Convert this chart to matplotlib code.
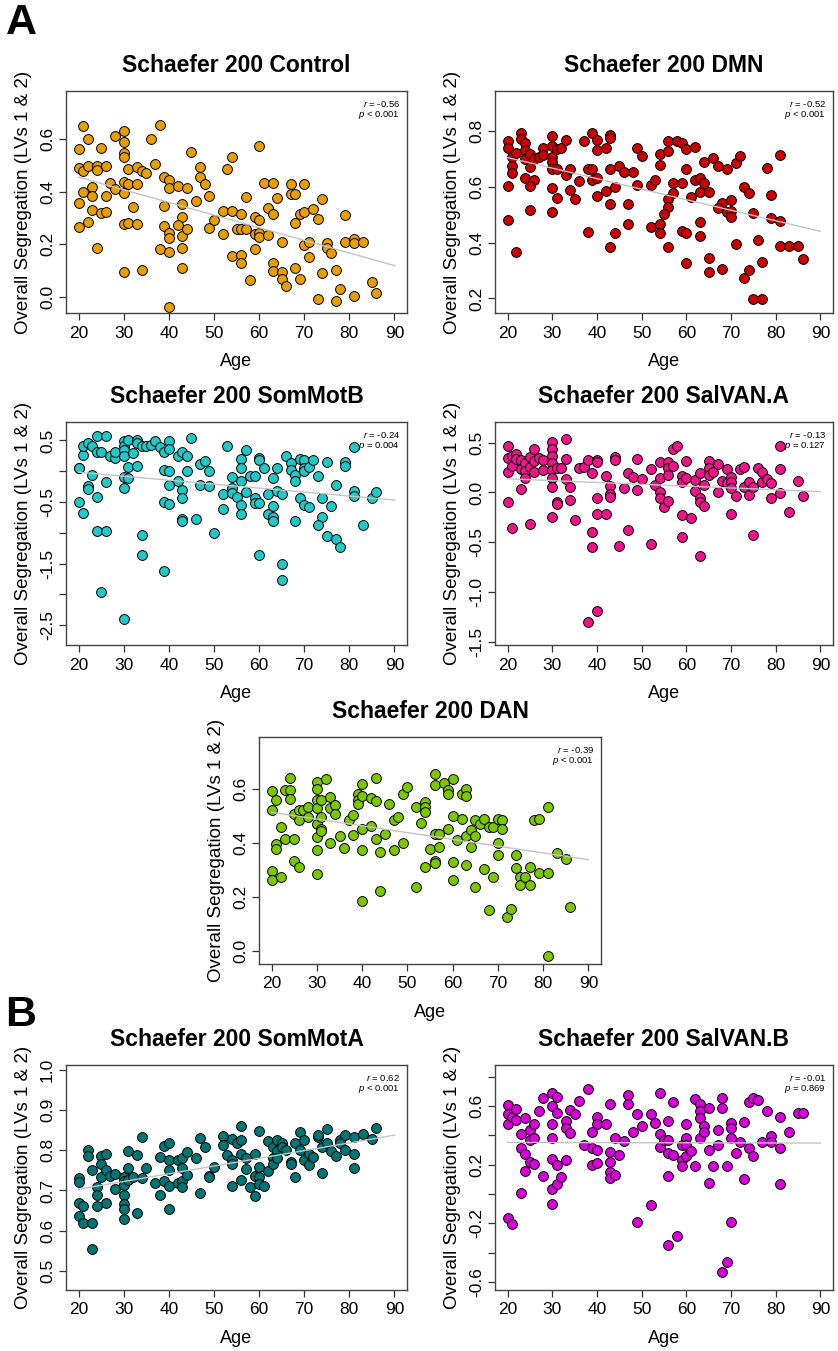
import numpy as np
import matplotlib
matplotlib.use("Agg")
import matplotlib.pyplot as plt

plt.rcParams['font.family'] = ['Liberation Sans', 'DejaVu Sans']
plt.rcParams['axes.unicode_minus'] = False
plt.rcParams['mathtext.fontset'] = 'custom'
plt.rcParams['mathtext.it'] = 'Liberation Sans:italic'
plt.rcParams['mathtext.rm'] = 'Liberation Sans'

# ---- data (age, overall segregation) ----
ctrl_pts = [(21,0.650),(22,0.599),(20,0.562),(25,0.567),(28,0.611),(30,0.632),(30,0.590),(36,0.601),(38,0.654),
    (30,0.545),(30,0.532),(20,0.489),(21,0.478),(22,0.499),(24,0.499),(24,0.482),(26,0.497),(31,0.487),(33,0.492),
    (34,0.478),(35,0.470),(37,0.506),(39,0.454),(40,0.444),(40,0.414),(42,0.422),(44,0.412),(45,0.549),(47,0.495),
    (47,0.457),(48,0.430),(49,0.385),(46,0.365),(27,0.432),(28,0.410),(30,0.437),(31,0.427),(33,0.427),(30,0.394),
    (23,0.416),(21,0.400),(23,0.385),(26,0.385),(20,0.356),(23,0.330),(25,0.318),(26,0.324),(32,0.342),(39,0.347),
    (43,0.353),(43,0.305),(20,0.267),(22,0.286),(30,0.276),(31,0.282),(33,0.276),(39,0.270),(40,0.244),(40,0.223),
    (42,0.272),(43,0.233),(44,0.257),(49,0.262),(50,0.292),(24,0.186),(38,0.182),(40,0.170),(43,0.185),(30,0.096),
    (34,0.103),(43,0.111),(40,-0.037),(54,0.533),(53,0.487),(60,0.574),(61,0.433),(63,0.433),(67,0.427),(70,0.429),
    (67,0.391),(68,0.392),(57,0.380),(64,0.377),(74,0.371),(52,0.327),(54,0.327),(56,0.314),(59,0.303),(60,0.292),
    (62,0.338),(63,0.315),(69,0.315),(70,0.323),(72,0.333),(73,0.295),(68,0.280),(79,0.311),(52,0.238),(55,0.257),
    (56,0.257),(57,0.257),(59,0.239),(60,0.241),(60,0.228),(62,0.235),(65,0.210),(70,0.197),(71,0.210),(75,0.204),
    (75,0.185),(76,0.166),(79,0.210),(81,0.220),(81,0.205),(83,0.210),(54,0.156),(56,0.160),(56,0.130),(59,0.182),
    (63,0.128),(63,0.099),(65,0.095),(65,0.068),(66,0.042),(68,0.109),(69,0.067),(71,0.153),(58,0.065),(74,0.090),
    (77,0.103),(73,-0.009),(77,-0.014),(78,0.032),(81,0.005),(85,0.058),(86,0.014)]

dmn_pts = [(20,0.763),(20,0.739),(21,0.707),(22,0.721),(21,0.676),(23,0.794),(23,0.771),(24,0.755),(24,0.733),
    (24,0.698),(25,0.719),(25,0.671),(21,0.648),(24,0.633),(26,0.624),(26,0.698),(27,0.707),(28,0.740),(28,0.715),
    (30,0.781),(30,0.745),(30,0.707),(30,0.689),(31,0.737),(32,0.740),(33,0.767),(30,0.665),(31,0.663),(33,0.642),
    (34,0.662),(36,0.620),(25,0.602),(20,0.604),(30,0.594),(31,0.560),(34,0.590),(35,0.556),(25,0.517),(30,0.511),
    (20,0.481),(22,0.368),(37,0.763),(38,0.662),(39,0.662),(39,0.624),(39,0.794),(40,0.767),(40,0.733),(40,0.630),
    (40,0.568),(42,0.739),(42,0.585),(43,0.785),(43,0.776),(43,0.663),(43,0.540),(44,0.600),(45,0.674),(46,0.654),
    (48,0.654),(49,0.739),(50,0.711),(49,0.608),(47,0.538),(47,0.465),(38,0.439),(44,0.436),(43,0.383),(52,0.608),
    (53,0.624),(52,0.457),(54,0.465),(54,0.436),(54,0.717),(54,0.677),(56,0.763),(56,0.729),(58,0.763),(59,0.755),
    (60,0.735),(62,0.743),(57,0.612),(59,0.612),(57,0.579),(56,0.557),(56,0.529),(55,0.502),(56,0.386),(59,0.443),
    (60,0.436),(60,0.663),(61,0.564),(62,0.624),(63,0.632),(64,0.612),(63,0.582),(65,0.582),(63,0.475),(63,0.424),
    (64,0.687),(66,0.704),(67,0.674),(69,0.663),(68,0.543),(67,0.525),(70,0.552),(69,0.511),(70,0.513),(70,0.493),
    (71,0.686),(72,0.711),(73,0.600),(74,0.576),(71,0.395),(65,0.344),(65,0.296),(68,0.305),(60,0.326),(73,0.275),
    (74,0.302),(75,0.505),(76,0.410),(77,0.329),(78,0.669),(79,0.570),(79,0.489),(81,0.477),(81,0.714),(81,0.389),
    (83,0.389),(85,0.389),(86,0.340),(75,0.198),(77,0.198)]

smb_pts = [(20,0.053),(20,0.047),(21,0.265),(21,0.418),(22,0.462),(23,0.418),(24,0.565),(24,0.309),(25,0.320),
    (26,0.565),(27,0.254),(28,0.211),(28,0.309),(30,0.489),(30,0.418),(30,0.347),(30,0.254),(31,0.511),(32,0.293),
    (33,0.511),(33,0.456),(34,0.418),(35,0.418),(36,0.429),(37,0.484),(38,0.391),(39,0.309),(40,0.489),(40,0.364),
    (42,0.254),(43,0.309),(44,0.254),(45,0.544),(47,0.118),(48,0.173),(49,-0.002),(39,0.020),(40,0.009),(40,-0.220),
    (42,-0.155),(43,-0.307),(43,-0.438),(44,-0.002),(47,-0.226),(49,-0.237),(31,0.074),(33,0.091),(30,-0.100),
    (31,-0.111),(30,-0.264),(26,-0.171),(23,-0.056),(22,-0.237),(22,-0.291),(24,-0.411),(20,-0.493),(21,-0.673),
    (24,-0.962),(26,-0.962),(34,-1.028),(34,-1.355),(25,-1.966),(30,-2.402),(39,-0.493),(40,-0.537),(43,-0.771),
    (43,-0.809),(46,-0.771),(50,-1.000),(39,-1.611),(53,0.418),(52,-0.362),(52,-0.618),(54,-0.100),(54,-0.264),
    (54,-0.346),(55,-0.417),(56,0.200),(56,0.053),(56,-0.155),(56,-0.547),(56,-0.700),(57,0.353),(57,-0.329),
    (58,-0.073),(59,-0.073),(59,-0.427),(59,-0.509),(60,-0.509),(60,0.216),(60,0.184),(61,0.053),(62,-0.373),
    (62,-0.689),(63,-0.111),(63,-0.564),(63,-0.744),(63,-0.809),(64,0.053),(64,-0.318),(65,-0.373),(66,0.254),
    (67,0.129),(67,0.020),(68,-0.062),(68,-0.155),(69,0.200),(70,0.184),(70,0.053),(70,0.009),(71,0.074),(72,0.184),
    (69,-0.427),(70,-0.553),(71,-0.580),(68,-0.809),(73,-0.073),(74,-0.427),(75,0.145),(76,-0.564),(74,-0.744),
    (73,-0.875),(75,-1.044),(77,-0.215),(77,-1.098),(78,-1.229),(79,0.145),(79,0.091),(81,0.391),(81,-0.318),
    (81,-0.400),(83,-0.875),(85,-0.427),(86,-0.329),(60,-1.355),(65,-1.502),(65,-1.764)]

sva_pts = [(20,0.466),(20,0.348),(20,0.203),(21,0.270),(21,0.372),(22,0.389),(22,0.338),(23,0.328),(23,0.236),
    (24,0.294),(24,0.220),(24,0.145),(25,0.361),(25,0.260),(26,0.439),(26,0.321),(26,0.203),(27,0.348),(28,0.328),
    (28,0.226),(30,0.507),(30,0.439),(30,0.372),(30,0.294),(30,0.226),(30,0.145),(31,0.247),(32,0.247),(33,0.534),
    (33,0.338),(33,0.135),(34,0.051),(31,-0.091),(31,-0.111),(34,-0.074),(30,0.051),(30,-0.243),(20,-0.091),
    (23,0.034),(21,-0.355),(25,-0.314),(35,-0.277),(36,0.247),(37,0.260),(38,0.328),(39,0.193),(40,0.328),(40,0.304),
    (40,-0.051),(40,-0.220),(39,-0.395),(39,-0.547),(42,0.169),(42,-0.220),(43,0.068),(43,-0.017),(43,-0.044),
    (44,0.355),(44,0.328),(46,0.044),(47,0.196),(48,0.152),(49,0.338),(49,0.027),(50,0.135),(47,-0.382),(45,-0.541),
    (52,0.236),(52,-0.517),(53,0.078),(54,0.304),(54,0.145),(54,0.007),(54,-0.057),(55,-0.145),(56,0.304),(56,0.247),
    (56,0.179),(56,-0.084),(57,0.270),(57,0.439),(58,0.466),(59,0.169),(59,0.101),(60,0.314),(60,0.145),(59,-0.230),
    (61,-0.253),(59,-0.449),(62,0.125),(62,0.010),(63,0.193),(63,-0.057),(63,-0.091),(64,-0.135),(64,0.078),
    (65,0.314),(65,0.247),(65,0.179),(66,0.203),(67,0.287),(67,0.000),(68,0.118),(69,0.236),(69,0.091),(70,0.152),
    (70,0.101),(70,0.044),(71,-0.034),(70,-0.213),(72,0.236),(73,0.260),(73,0.057),(74,0.108),(74,-0.024),(75,0.057),
    (75,-0.432),(76,0.247),(77,0.203),(77,0.108),(78,0.135),(79,0.091),(79,-0.051),(81,0.466),(81,0.236),(81,-0.010),
    (83,-0.196),(85,0.118),(86,-0.034),(63,-0.635),(38,-1.301),(40,-1.189)]

dan_pts = [(20,0.593),(20,0.525),(20,0.299),(20,0.265),(21,0.398),(21,0.380),(21,0.562),(22,0.460),(22,0.277),
    (23,0.596),(23,0.417),(24,0.643),(24,0.599),(24,0.565),(25,0.417),(25,0.336),(25,0.510),(26,0.314),(26,0.525),
    (26,0.487),(27,0.522),(28,0.534),(28,0.497),(30,0.627),(30,0.602),(30,0.559),(30,0.532),(30,0.470),(30,0.423),
    (30,0.376),(30,0.287),(31,0.562),(31,0.497),(31,0.454),(31,0.445),(32,0.638),(33,0.572),(33,0.532),(33,0.401),
    (34,0.541),(34,0.507),(35,0.429),(36,0.382),(37,0.485),(38,0.504),(38,0.432),(39,0.584),(39,0.559),(39,0.547),
    (40,0.621),(40,0.574),(40,0.454),(40,0.376),(42,0.568),(42,0.466),(43,0.643),(43,0.557),(43,0.417),(44,0.367),
    (44,0.223),(45,0.435),(46,0.547),(47,0.376),(47,0.485),(48,0.497),(49,0.401),(49,0.581),(50,0.609),(52,0.534),
    (52,0.238),(53,0.475),(54,0.553),(54,0.534),(54,0.516),(54,0.312),(55,0.380),(56,0.656),(56,0.615),(56,0.435),
    (56,0.336),(56,0.327),(57,0.435),(57,0.386),(58,0.624),(59,0.599),(59,0.584),(59,0.454),(60,0.640),(60,0.500),
    (60,0.330),(60,0.266),(61,0.413),(62,0.584),(62,0.491),(63,0.602),(63,0.574),(63,0.426),(63,0.320),(64,0.448),
    (64,0.388),(65,0.485),(65,0.426),(65,0.238),(66,0.473),(67,0.491),(67,0.306),(68,0.460),(68,0.153),(69,0.460),
    (69,0.277),(70,0.491),(70,0.401),(70,0.358),(71,0.487),(71,0.454),(72,0.128),(73,0.157),(74,0.355),(74,0.309),
    (75,0.277),(75,0.247),(76,0.277),(77,0.247),(77,0.314),(78,0.487),(79,0.491),(79,0.291),(81,0.534),(81,0.291),
    (83,0.364),(85,0.343),(86,0.166),(81,-0.016),(40,0.186)]

sma_pts = [(20,0.730),(20,0.720),(20,0.669),(20,0.637),(21,0.661),(21,0.620),(22,0.802),(22,0.786),(23,0.752),
    (23,0.620),(23,0.553),(24,0.709),(24,0.689),(24,0.661),(25,0.786),(25,0.765),(25,0.734),(26,0.790),(26,0.751),
    (26,0.668),(27,0.736),(28,0.741),(28,0.703),(30,0.733),(30,0.723),(30,0.713),(30,0.689),(30,0.665),(30,0.653),
    (30,0.628),(31,0.799),(31,0.757),(31,0.726),(32,0.733),(33,0.788),(33,0.643),(34,0.834),(34,0.732),(35,0.757),
    (37,0.718),(38,0.784),(38,0.689),(39,0.811),(39,0.724),(40,0.817),(40,0.776),(40,0.751),(40,0.712),(40,0.655),
    (42,0.776),(42,0.719),(43,0.782),(43,0.755),(43,0.724),(43,0.708),(44,0.797),(44,0.738),(46,0.780),(47,0.830),
    (47,0.694),(48,0.809),(49,0.736),(49,0.733),(50,0.759),(52,0.836),(52,0.813),(53,0.788),(54,0.827),(54,0.776),
    (54,0.767),(54,0.712),(55,0.817),(56,0.860),(56,0.826),(56,0.792),(56,0.726),(57,0.782),(57,0.753),(58,0.708),
    (59,0.791),(59,0.736),(59,0.687),(60,0.849),(60,0.759),(60,0.733),(60,0.716),(61,0.711),(62,0.824),(62,0.749),
    (63,0.809),(63,0.780),(63,0.767),(64,0.826),(64,0.799),(64,0.780),(65,0.817),(65,0.809),(66,0.801),(67,0.772),
    (67,0.767),(68,0.819),(68,0.734),(69,0.846),(69,0.801),(70,0.826),(70,0.777),(71,0.791),(71,0.763),(72,0.784),
    (73,0.832),(73,0.838),(74,0.809),(74,0.744),(75,0.853),(75,0.819),(76,0.798),(77,0.786),(78,0.826),(78,0.817),
    (79,0.838),(79,0.801),(81,0.832),(81,0.791),(81,0.755),(83,0.841),(85,0.828),(86,0.856)]

svb_pts = [(20,0.607),(20,0.543),(20,0.477),(21,0.527),(22,0.579),(22,0.504),(23,0.413),(23,0.315),(24,0.516),
    (24,0.276),(24,0.157),(25,0.436),(25,0.367),(25,0.219),(26,0.481),(26,0.379),(26,0.203),(23,0.009),(27,0.566),
    (28,0.653),(28,0.123),(30,0.687),(30,0.600),(30,0.477),(30,0.385),(30,0.237),(30,0.032),(30,-0.071),(31,0.664),
    (31,0.554),(31,0.200),(31,0.070),(32,0.116),(33,0.500),(33,0.454),(33,0.230),(34,0.573),(34,0.417),(35,0.543),
    (36,0.637),(37,0.337),(38,0.714),(39,0.317),(39,0.196),(40,0.527),(40,0.477),(40,0.303),(40,0.214),(39,0.424),
    (42,0.477),(43,0.618),(43,0.287),(43,0.219),(43,0.150),(43,0.111),(44,0.385),(44,0.132),(45,0.269),(46,0.363),
    (47,0.675),(47,0.618),(48,0.424),(49,0.543),(50,0.463),(52,0.543),(53,0.488),(52,-0.078),(54,0.687),(54,0.408),
    (54,0.321),(55,0.372),(56,0.497),(56,0.367),(56,0.280),(56,0.121),(57,0.264),(57,0.625),(59,0.333),(59,0.230),
    (59,0.189),(60,0.477),(60,0.385),(60,0.333),(60,0.258),(61,0.294),(62,0.646),(62,0.189),(63,0.618),(63,0.566),
    (63,0.516),(63,0.379),(64,0.463),(64,0.424),(65,0.589),(65,0.303),(65,0.077),(67,0.436),(67,0.333),(68,0.653),
    (68,0.589),(70,0.488),(70,0.454),(70,0.385),(71,0.283),(72,0.356),(66,0.189),(69,0.189),(73,0.493),(73,0.105),
    (74,0.630),(74,0.315),(75,0.653),(75,0.258),(76,0.641),(77,0.356),(78,0.566),(79,0.397),(79,0.356),(81,0.527),
    (81,0.317),(81,0.070),(83,0.424),(85,0.550),(86,0.554),(20,-0.165),(21,-0.208),(49,-0.192),(58,-0.290),
    (56,-0.347),(70,-0.192),(68,-0.535),(69,-0.468)]

titles = ["Schaefer 200 Control", "Schaefer 200 DMN", "Schaefer 200 SomMotB", "Schaefer 200 SalVAN.A",
          "Schaefer 200 DAN", "Schaefer 200 SomMotA", "Schaefer 200 SalVAN.B"]
r_vals = ["-0.56", "-0.52", "-0.24", "-0.13", "-0.39", "0.62", "-0.01"]
p_vals = ["< 0.001", "< 0.001", "= 0.004", "= 0.127", "< 0.001", "< 0.001", "= 0.869"]
colors = ["#E89E00", "#CC0000", "#22C7C7", "#F0148C", "#7CC800", "#007575", "#D800D8"]

# y ticks and which of them carry labels
yticks = [[0.0, 0.2, 0.4, 0.6], [0.2, 0.4, 0.6, 0.8],
          [-2.5, -2.0, -1.5, -1.0, -0.5, 0.0, 0.5], [-1.5, -1.0, -0.5, 0.0, 0.5],
          [0.0, 0.2, 0.4, 0.6], [0.5, 0.6, 0.7, 0.8, 0.9, 1.0],
          [-0.6, -0.4, -0.2, 0.0, 0.2, 0.4, 0.6, 0.8]]
ylabels = [["0.0", "0.2", "0.4", "0.6"], ["0.2", "0.4", "0.6", "0.8"],
           ["-2.5", "", "-1.5", "", "-0.5", "", "0.5"], ["-1.5", "-1.0", "-0.5", "0.0", "0.5"],
           ["0.0", "0.2", "0.4", "0.6"], ["0.5", "0.6", "0.7", "0.8", "0.9", "1.0"],
           ["-0.6", "", "-0.2", "", "0.2", "", "0.6", ""]]
ylims = [(-0.061, 0.782), (0.148, 0.943), (-2.82, 0.80), (-1.534, 0.709),
         (-0.047, 0.794), (0.452, 1.0125), (-0.656, 0.881)]

all_pts = [ctrl_pts, dmn_pts, smb_pts, sva_pts, dan_pts, sma_pts, svb_pts]

# panel boxes in pixels: left, right, top, bottom
boxes = [(66, 407, 91, 313), (495, 833, 91, 313),
         (66, 407, 422, 645), (495, 833, 422, 645),
         (259, 601, 737, 964),
         (66, 407, 1065, 1290), (495, 833, 1065, 1290)]

W, H = 838, 1351
fig = plt.figure(figsize=(W / 100, H / 100), dpi=100)

for i, pts in enumerate(all_pts):
    x0, x1, y0, y1 = boxes[i]
    ax = fig.add_axes([x0 / W, 1 - y1 / H, (x1 - x0) / W, (y1 - y0) / H])
    arr = np.array(pts)
    age, val = arr[:, 0], arr[:, 1]

    ax.scatter(age, val, s=50, c=colors[i], edgecolors="black", linewidths=0.7, zorder=2)
    b, a = np.polyfit(age, val, 1)
    xs = np.array([20, 90])
    ax.plot(xs, a + b * xs, color="#c4c4c4", lw=1.0, zorder=3)

    ax.set_xlim(17.2, 92.8)
    ax.set_ylim(*ylims[i])
    ax.set_xticks(range(20, 91, 10))
    ax.set_yticks(yticks[i])
    ax.set_yticklabels(ylabels[i], rotation=90, va="center")
    ax.tick_params(axis="both", length=5, width=0.9, color="#333333", labelsize=12.5, pad=4)
    ax.tick_params(axis="y", pad=3)
    for s in ax.spines.values():
        s.set_color("#444444")
        s.set_linewidth(1.0)

    ax.set_title(titles[i], fontsize=16.5, fontweight="bold", pad=14)
    ax.set_xlabel("Age", fontsize=13, labelpad=9)
    ax.set_ylabel("Overall Segregation (LVs 1 & 2)", fontsize=13.5, labelpad=6)

    hp = y1 - y0
    wp = x1 - x0
    ax.text(1 - 7 / wp, 1 - 13 / hp, "$r$ = " + r_vals[i], transform=ax.transAxes,
            ha="right", va="center", fontsize=6.8)
    ax.text(1 - 7 / wp, 1 - 24 / hp, "$p$ " + p_vals[i], transform=ax.transAxes,
            ha="right", va="center", fontsize=6.8)

fig.text(21 / W, 1 - 23 / H, "A", fontsize=31, fontweight="bold", ha="center", va="center")
fig.text(21 / W, 1 - 1015 / H, "B", fontsize=31, fontweight="bold", ha="center", va="center")

fig.savefig("out.png", dpi=100)
